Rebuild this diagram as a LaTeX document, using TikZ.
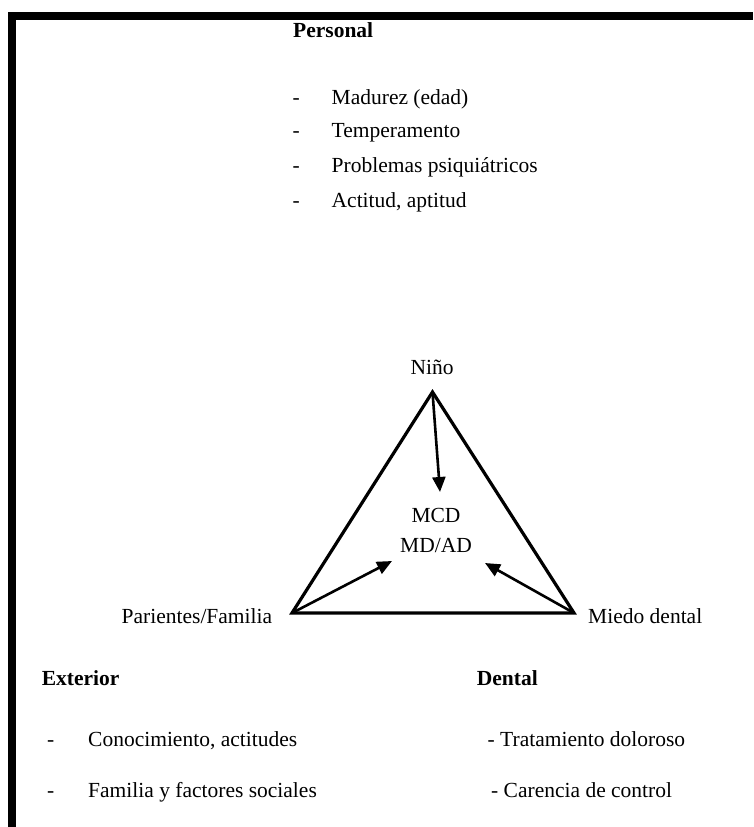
\documentclass[tikz,border=0pt]{standalone}
\usepackage{fontspec}
\setmainfont{Liberation Serif}
\usetikzlibrary{arrows.meta}

\begin{document}
\begin{tikzpicture}[
    x=1pt,
    y=-1pt,
    txt/.style={anchor=base west, inner sep=0pt, font=\fontsize{21.5}{25}\selectfont},
    head/.style={txt, font=\fontsize{21.5}{25}\selectfont\bfseries},
    mid/.style={anchor=base, inner sep=0pt, font=\fontsize{21.5}{25}\selectfont},
    side/.style={line width=3.2pt, line join=miter},
    push/.style={line width=2.6pt, -{Triangle[length=15pt,width=13pt]}}
]
\useasboundingbox (0,0) rectangle (753,827);
% Frame
\fill (8,12) rectangle (753,20);
\fill (8,12) rectangle (16,827);

% Personal
\node[head] (personal) at (293,37) {Personal};
\foreach \y/\txt [count=\i] in {104/Madurez (edad),137/Temperamento,172/Problemas psiquiátricos,207/{Actitud, aptitud}} {
  \node[txt] (p\i) at (292.5,\y) {\makebox[39pt][l]{-}\txt};
}

% Triangle
\coordinate (nino-v) at (432.5,392);
\coordinate (fam-v) at (292,613);
\coordinate (dent-v) at (574,613);
\draw[side] (nino-v) -- (fam-v) -- (dent-v) -- cycle;

\node[mid] (nino) at (432,374) {Niño};
\node[mid] (mcd) at (436,522) {MCD};
\node[mid] (mdad) at (436,552) {MD/AD};
\node[txt] (fam) at (121.5,623) {Parientes/Familia};
\node[txt] (miedo) at (588,623) {Miedo dental};

% Arrows into the centre
\coordinate (tip-n) at (440,492);
\coordinate (tip-f) at (392,561);
\coordinate (tip-d) at (485,563);
\draw[push] (nino-v) -- (tip-n);
\draw[push] (fam-v) -- (tip-f);
\draw[push] (dent-v) -- (tip-d);

% Exterior and Dental
\node[head] (ext) at (41.7,685) {Exterior};
\node[head] (dent) at (476.7,685) {Dental};
\node[txt] (e1) at (47,746.7) {\makebox[41pt][l]{-}Conocimiento, actitudes};
\node[txt] (e2) at (47,797) {\makebox[41pt][l]{-}Familia y factores sociales};
\node[txt] (d1) at (487.5,746.7) {- Tratamiento doloroso};
\node[txt] (d2) at (491,797) {- Carencia de control};
\end{tikzpicture}
\end{document}
